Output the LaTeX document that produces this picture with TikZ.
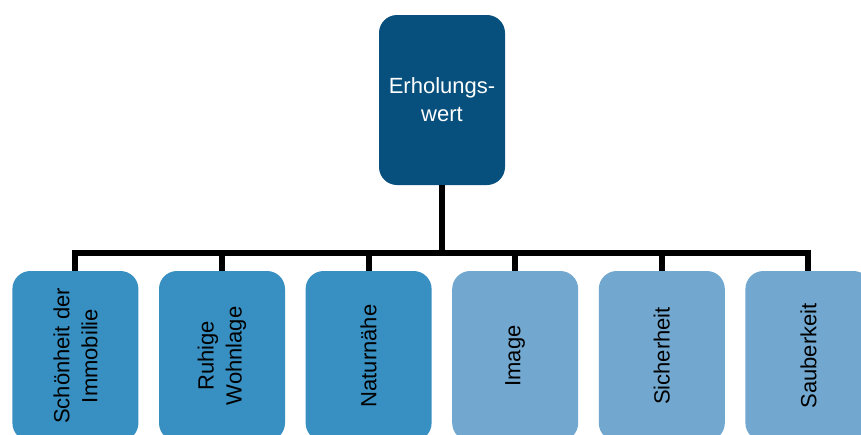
\documentclass[tikz,border=0pt]{standalone}
\usepackage{fontspec}
\setmainfont{Liberation Sans}
\definecolor{rootblue}{HTML}{074F7C}
\definecolor{midblue}{HTML}{388FC1}
\definecolor{lightblue}{HTML}{72A8CF}
\begin{document}
\begin{tikzpicture}[x=1pt,y=-1pt,
  box/.style={draw=none, rounded corners=18pt, minimum width=126pt, minimum height=170pt, inner sep=0pt},
  lbl/.style={font=\fontsize{22}{28}\selectfont, align=center, inner sep=0pt},
  leaflbl/.style={lbl, rotate=90, text=black},
  link/.style={line width=6pt, draw=black}]
  \useasboundingbox (0,0) rectangle (861,434);
  \clip (0,0) rectangle (861,434);

  % root of the tree
  \node[box, fill=rootblue] (root) at (442,100) {};
  \node[lbl, text=white] (rootlbl) at (root) {Erholungs-\\wert};

  % leaves
  \foreach \i/\col/\txt in {0/midblue/{Schönheit der\\Immobilie},
                            1/midblue/{Ruhige\\Wohnlage},
                            2/midblue/{Naturnähe},
                            3/lightblue/{Image},
                            4/lightblue/{Sicherheit},
                            5/lightblue/{Sauberkeit}} {
    \node[box, fill=\col] (c\i) at ({75.4+146.6*\i},356) {};
    \node[leaflbl] (t\i) at (c\i) {\txt};
  }

  % connectors: stem, bar and drops
  \foreach \i in {0,...,5} {
    \draw[link] (root.south) -- ++(0,67.5) -| (c\i.north);
  }
\end{tikzpicture}
\end{document}
